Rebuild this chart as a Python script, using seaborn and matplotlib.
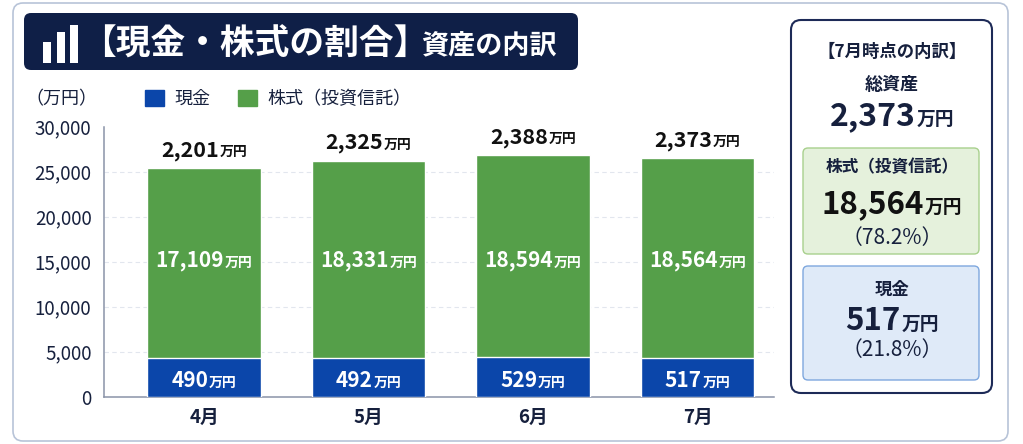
"""Gráfico de barras apiladas: proporción de efectivo y acciones (abr–jul)."""

import matplotlib

matplotlib.use("Agg")

import matplotlib.pyplot as plt
import pandas as pd
import seaborn as sns
from matplotlib.patches import FancyBboxPatch, Patch, Rectangle
from matplotlib.transforms import offset_copy


MESES = ["4月", "5月", "6月", "7月"]
# altura de cada tramo (escala del eje, 万円)
ALTURA_EFECTIVO = [4300, 4300, 4380, 4270]
ALTURA_ACCIONES = [21100, 21900, 22470, 22230]
# textos de cada barra
ETIQ_EFECTIVO = ["490", "492", "529", "517"]
ETIQ_ACCIONES = ["17,109", "18,331", "18,594", "18,564"]
ETIQ_TOTAL = ["2,201", "2,325", "2,388", "2,373"]
TICKS_Y = [0, 5000, 10000, 15000, 20000, 25000, 30000]

TITULO = "【現金・株式の割合】"
SUBTITULO = "資産の内訳"
SERIES = ["現金", "株式（投資信託）"]
UNIDAD = "万円"

RESUMEN_TITULO = "【7月時点の内訳】"
RESUMEN_TOTAL = "2,373"
RESUMEN_ACCIONES = "18,564"
RESUMEN_ACCIONES_PCT = "（78.2%）"
RESUMEN_EFECTIVO = "517"
RESUMEN_EFECTIVO_PCT = "（21.8%）"

AZUL = "#0b46aa"
VERDE = "#559f49"
MARINO = "#16203d"
FUENTES = ["Noto Sans CJK JP", "DejaVu Sans"]

sns.set_theme(style="white")
plt.rcParams["font.family"] = FUENTES

fig = plt.figure(figsize=(10.23, 4.44), dpi=100)
renderer = fig.canvas.get_renderer()


def etiqueta_doble(ax, x, y, numero, unidad, tam_num, tam_uni, color, trans=None, peso_uni="bold"):
    """Dibuja número + unidad centrados en x, con la misma línea base."""
    trans = trans or ax.transData
    t1 = ax.text(x, y, numero, fontsize=tam_num, fontweight="bold", color=color,
                 ha="left", va="baseline", transform=trans, zorder=5)
    t2 = ax.text(x, y, unidad, fontsize=tam_uni, fontweight=peso_uni, color=color,
                 ha="left", va="baseline", transform=trans, zorder=5)
    w1 = t1.get_window_extent(renderer).width
    w2 = t2.get_window_extent(renderer).width
    hueco = 0.8
    inicio = -(w1 + w2 + hueco) / 2
    t1.set_transform(offset_copy(trans, fig=fig, x=inicio, y=0, units="dots"))
    t2.set_transform(offset_copy(trans, fig=fig, x=inicio + w1 + hueco, y=0, units="dots"))


# ---- fondo en coordenadas de píxel ----
bg = fig.add_axes([0, 0, 1, 1], zorder=0)
bg.set_xlim(0, 1023)
bg.set_ylim(444, 0)
bg.axis("off")

bg.add_patch(FancyBboxPatch((13, 3), 995, 438, boxstyle="round,pad=0,rounding_size=10",
                            fc="white", ec="#b8c4d8", lw=1.2))
bg.add_patch(FancyBboxPatch((24, 13), 554, 57, boxstyle="round,pad=0,rounding_size=7",
                            fc="#0f1f47", ec="none"))
for x0, top in [(43, 42), (57, 32), (70, 25)]:
    bg.add_patch(Rectangle((x0, top), 8, 63 - top, fc="white", ec="none"))
bg.text(81, 44, TITULO, fontsize=25, fontweight="bold", color="white",
        ha="left", va="center")
bg.text(421, 45, SUBTITULO, fontsize=19.5, fontweight="bold", color="white",
        ha="left", va="center")

bg.text(61, 99, "（万円）", fontsize=13, color=MARINO, ha="center", va="center")

# panel lateral
bg.add_patch(FancyBboxPatch((791, 20), 201, 373, boxstyle="round,pad=0,rounding_size=10",
                            fc="white", ec="#1d2a57", lw=1.5))
bg.add_patch(FancyBboxPatch((803, 148), 176, 106, boxstyle="round,pad=0,rounding_size=5",
                            fc="#e5f1dc", ec="#a8d08d", lw=1.0))
bg.add_patch(FancyBboxPatch((803, 266), 176, 114, boxstyle="round,pad=0,rounding_size=5",
                            fc="#dfeaf8", ec="#7ea7de", lw=1.0))
bg.text(892, 52, RESUMEN_TITULO, fontsize=12.5, fontweight="bold", color=MARINO,
        ha="center", va="center")
bg.text(892, 85, "総資産", fontsize=13, fontweight="bold", color=MARINO, ha="center", va="center")
etiqueta_doble(bg, 892, 125, RESUMEN_TOTAL, UNIDAD, 23, 13.5, MARINO)
bg.text(892, 167, SERIES[1], fontsize=12, fontweight="bold", color=MARINO,
        ha="center", va="center")
etiqueta_doble(bg, 892, 213, RESUMEN_ACCIONES, UNIDAD, 22.5, 13.5, "#111111")
bg.text(892, 238, RESUMEN_ACCIONES_PCT, fontsize=15, color=MARINO, ha="center", va="center")
bg.text(892, 290, SERIES[0], fontsize=12.5, fontweight="bold", color=MARINO,
        ha="center", va="center")
etiqueta_doble(bg, 892, 330, RESUMEN_EFECTIVO, UNIDAD, 22.5, 13.5, MARINO)
bg.text(892, 350, RESUMEN_EFECTIVO_PCT, fontsize=15, color=MARINO, ha="center", va="center")

# ---- gráfico de barras ----
df = pd.DataFrame({"月": MESES, "現金": ALTURA_EFECTIVO, "株式": ALTURA_ACCIONES})
df["合計"] = df["現金"] + df["株式"]

ax = fig.add_axes([104 / 1023, 47.3 / 444, 670 / 1023, 270 / 444], zorder=1)
ax.set_facecolor("none")
sns.barplot(data=df, x="月", y="合計", color=VERDE, saturation=1, width=0.69,
            errorbar=None, ax=ax, zorder=2)
sns.barplot(data=df, x="月", y="現金", color=AZUL, saturation=1, width=0.69,
            errorbar=None, ax=ax, zorder=3)

ax.set_xlim(-0.608, 3.465)
ax.set_ylim(0, 30000)
ax.set_yticks(TICKS_Y)
ax.set_yticklabels([f"{v:,}" for v in TICKS_Y])
ax.set_xlabel("")
ax.set_ylabel("")
for y in TICKS_Y[1:-1]:
    ax.axhline(y, color="#e2e6ee", lw=0.8, ls=(0, (4, 3)), zorder=1)
for lado in ["top", "right"]:
    ax.spines[lado].set_visible(False)
for lado in ["left", "bottom"]:
    ax.spines[lado].set_color("#8a93a8")
    ax.spines[lado].set_linewidth(1.1)
ax.tick_params(axis="y", length=0, pad=9, labelsize=13.5, labelcolor=MARINO)
ax.tick_params(axis="x", length=0, pad=8, labelsize=13.5, labelcolor=MARINO)
for lbl in ax.get_xticklabels():
    lbl.set_fontweight("bold")

for i, fila in df.iterrows():
    etiqueta_doble(ax, i, 14450, ETIQ_ACCIONES[i], UNIDAD, 15, 10, "white")
    etiqueta_doble(ax, i, 1100, ETIQ_EFECTIVO[i], UNIDAD, 15, 10, "white")
    etiqueta_doble(ax, i, fila["合計"], ETIQ_TOTAL[i], UNIDAD, 15.5, 10, "#111111",
                   trans=offset_copy(ax.transData, fig=fig, x=0, y=12, units="dots"))

ax.legend(handles=[Patch(color=AZUL, label=SERIES[0]), Patch(color=VERDE, label=SERIES[1])],
          loc="center left", bbox_to_anchor=(145 / 1023, 1 - 99 / 444),
          bbox_transform=fig.transFigure, ncol=2, frameon=False, fontsize=13,
          handlelength=1.05, handleheight=1.0, handletextpad=0.6, columnspacing=1.5,
          borderpad=0, borderaxespad=0, labelcolor=MARINO)

fig.savefig("out.png", dpi=100)
